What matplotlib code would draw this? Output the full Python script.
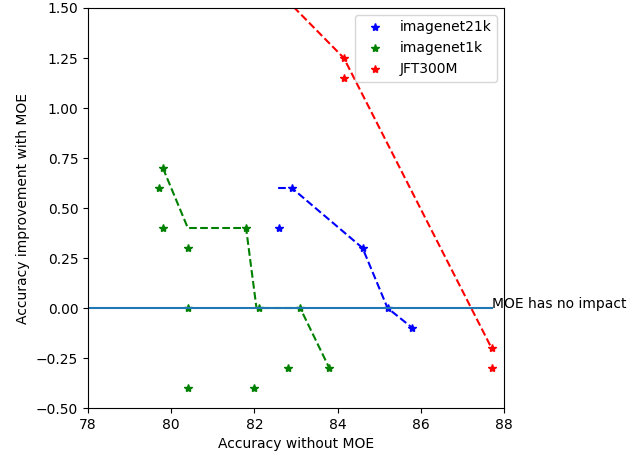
import matplotlib
matplotlib.use("Agg")
import matplotlib.pyplot as plt

# Measured points: accuracy without MOE vs. improvement with MOE
in21k_x = [82.6, 82.9, 84.6, 85.2, 85.8]
in21k_y = [0.4, 0.6, 0.3, 0.0, -0.1]
in1k_x = [79.7, 79.8, 79.8, 80.4, 80.4, 80.4, 81.8, 82.0, 82.1, 82.8, 83.1, 83.8]
in1k_y = [0.6, 0.7, 0.4, 0.3, 0.0, -0.4, 0.4, -0.4, 0.0, -0.3, 0.0, -0.3]
jft_x = [84.15, 84.15, 87.7, 87.7]
jft_y = [1.25, 1.15, -0.2, -0.3]

# Frontier curves through the best runs
in21k_fx = [82.57, 82.9, 84.6, 85.2, 85.8]
in21k_fy = [0.6, 0.6, 0.3, 0.0, -0.1]
in1k_fx = [79.8, 80.4, 81.8, 82.05, 83.1, 83.8]
in1k_fy = [0.7, 0.4, 0.4, 0.0, 0.0, -0.3]
jft_fx = [80.6, 84.15, 87.7]
jft_fy = [2.0, 1.25, -0.2]

fig = plt.figure(figsize=(6.44, 4.58), dpi=100)
ax = fig.add_axes([88 / 644, 50 / 458, 416 / 644, 400 / 458])

ax.plot(in21k_x, in21k_y, '*', color='blue', label='imagenet21k')
ax.plot(in1k_x, in1k_y, '*', color='green', label='imagenet1k')
ax.plot(jft_x, jft_y, '*', color='red', label='JFT300M')

ax.plot(in21k_fx, in21k_fy, '--', color='blue')
ax.plot(in1k_fx, in1k_fy, '--', color='green')
ax.plot(jft_fx, jft_fy, '--', color='red')

ax.plot([78, 87.72], [0, 0])
ax.text(87.72, 0, 'MOE has no impact', fontsize=10)

ax.set_xlim(78, 88)
ax.set_ylim(-0.5, 1.5)
ax.set_xlabel('Accuracy without MOE')
ax.set_ylabel('Accuracy improvement with MOE')
ax.legend(loc='upper right')

fig.savefig('out.png', dpi=100)
